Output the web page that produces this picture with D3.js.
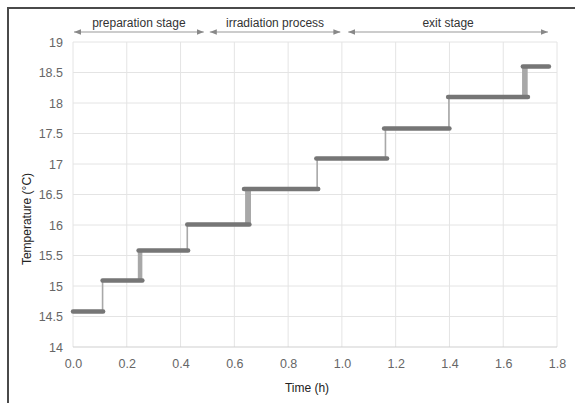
<!DOCTYPE html>
<html>
<head>
<meta charset="utf-8">
<script src="https://cdn.jsdelivr.net/npm/d3@7"></script>
<style>
  body { margin: 0; background: #fff; }
  svg { display: block; font-family: "Liberation Sans", Arial, sans-serif; }
</style>
</head>
<body>
<svg></svg>
<script>
const CHART_SIZE = { width: 575, height: 403 };
const MARGIN = { left: 73, right: 18, top: 42, bottom: 56 };
const HEIGHT = CHART_SIZE.height - MARGIN.top - MARGIN.bottom;
const WIDTH = CHART_SIZE.width - MARGIN.left - MARGIN.right;

// temperature plateaus (°C) with their start / end times (h)
const levels = [14.58, 15.09, 15.58, 16.01, 16.59, 17.09, 17.58, 18.1, 18.6];
const levelStart = [0.0, 0.11, 0.244, 0.425, 0.636, 0.905, 1.157, 1.395, 1.673];
const levelEnd = [0.112, 0.258, 0.428, 0.656, 0.912, 1.168, 1.4, 1.692, 1.77];
// jumps between plateaus: time range over which the rise is spread
const jumpFrom = [0.11, 0.244, 0.425, 0.643, 0.908, 1.162, 1.398, 1.673];
const jumpTo = [0.11, 0.255, 0.425, 0.659, 0.908, 1.162, 1.398, 1.688];

const xTicks = [0, 0.2, 0.4, 0.6, 0.8, 1.0, 1.2, 1.4, 1.6, 1.8];
const yTicks = [14, 14.5, 15, 15.5, 16, 16.5, 17, 17.5, 18, 18.5, 19];

const stageNames = ['preparation stage', 'irradiation process', 'exit stage'];
const stageStart = [0.0, 0.505, 1.02];
const stageEnd = [0.49, 0.998, 1.77];

const svg = d3.select('svg')
  .attr('width', CHART_SIZE.width)
  .attr('height', CHART_SIZE.height);

// outer frame (only top and left edges visible)
svg.append('path')
  .attr('d', `M8,${CHART_SIZE.height + 2} L8,8 L${CHART_SIZE.width + 2},8`)
  .attr('fill', 'none')
  .attr('stroke', '#4a4a4a')
  .attr('stroke-width', 2);

const defs = svg.append('defs');
defs.append('marker')
  .attr('id', 'arrow')
  .attr('viewBox', '0 0 10 10')
  .attr('refX', 10).attr('refY', 5)
  .attr('markerWidth', 7).attr('markerHeight', 7)
  .attr('markerUnits', 'userSpaceOnUse')
  .attr('orient', 'auto-start-reverse')
  .append('path')
  .attr('d', 'M0,1 L10,5 L0,9 Z')
  .attr('fill', '#888');

const g = svg.append('g')
  .attr('transform', `translate(${MARGIN.left},${MARGIN.top})`);

const x = d3.scaleLinear().domain([0, 1.8]).range([0, WIDTH]);
const y = d3.scaleLinear().domain([14, 19]).range([HEIGHT, 0]);

// grid
g.append('g').selectAll('line').data(xTicks).join('line')
  .attr('x1', d => x(d)).attr('x2', d => x(d))
  .attr('y1', 0).attr('y2', HEIGHT)
  .attr('stroke', '#e4e4e4').attr('stroke-width', 1);
g.append('g').selectAll('line').data(yTicks).join('line')
  .attr('x1', 0).attr('x2', WIDTH)
  .attr('y1', d => y(d)).attr('y2', d => y(d))
  .attr('stroke', d => d === 14 ? '#cfcfcf' : '#e4e4e4').attr('stroke-width', 1);

// axes
const xAxis = d3.axisBottom(x).tickValues(xTicks).tickSize(0).tickPadding(12)
  .tickFormat(d3.format('.1f'));
g.append('g').attr('transform', `translate(0,${HEIGHT})`).call(xAxis)
  .call(a => a.select('.domain').remove())
  .selectAll('text').attr('fill', '#666').style('font-size', '12.5px');

const yAxis = d3.axisLeft(y).tickValues(yTicks).tickSize(0).tickPadding(10)
  .tickFormat(d => d);
g.append('g').call(yAxis)
  .call(a => a.select('.domain').remove())
  .selectAll('text').attr('fill', '#666').style('font-size', '12.5px');

g.append('text')
  .attr('x', 234).attr('y', HEIGHT + 45)
  .attr('text-anchor', 'middle')
  .style('font-size', '12px').attr('fill', '#222')
  .text('Time (h)');

g.append('text')
  .attr('transform', 'rotate(-90)')
  .attr('x', -(219 - MARGIN.top)).attr('y', -42)
  .attr('text-anchor', 'middle')
  .style('font-size', '12px').attr('fill', '#222')
  .text('Temperature (°C)');

// stage arrows
const stages = stageNames.map((n, i) => ({ name: n, s: stageStart[i], e: stageEnd[i] }));
const st = g.append('g').selectAll('g').data(stages).join('g');
st.append('line')
  .attr('x1', d => x(d.s) + 1).attr('x2', d => x(d.e) - 1)
  .attr('y1', -10).attr('y2', -10)
  .attr('stroke', '#999').attr('stroke-width', 1)
  .attr('marker-start', 'url(#arrow)')
  .attr('marker-end', 'url(#arrow)');
st.append('text')
  .attr('x', d => (x(d.s) + x(d.e)) / 2).attr('y', -15)
  .attr('text-anchor', 'middle')
  .style('font-size', '12px').attr('fill', '#333')
  .text(d => d.name);

// jumps between plateaus
const jumps = jumpFrom.map((f, i) => ({ f, t: jumpTo[i], lo: levels[i], hi: levels[i + 1] }));
g.append('g').selectAll('rect').data(jumps).join('rect')
  .attr('x', d => x(d.f) - 0.8)
  .attr('width', d => x(d.t) - x(d.f) + 1.6)
  .attr('y', d => y(d.hi))
  .attr('height', d => y(d.lo) - y(d.hi))
  .attr('fill', '#a8a8a8');

// plateaus
const plateaus = levels.map((v, i) => ({ v, s: levelStart[i], e: levelEnd[i] }));
g.append('g').selectAll('line').data(plateaus).join('line')
  .attr('x1', d => x(d.s)).attr('x2', d => x(d.e))
  .attr('y1', d => y(d.v)).attr('y2', d => y(d.v))
  .attr('stroke', '#767676').attr('stroke-width', 4.5)
  .attr('stroke-linecap', 'round');
</script>
</body>
</html>
